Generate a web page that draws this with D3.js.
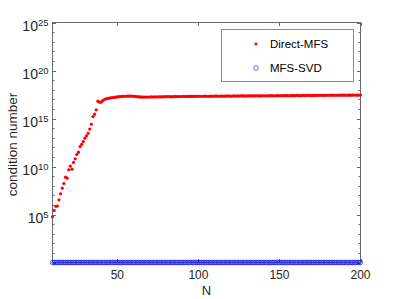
<!DOCTYPE html>
<html>
<head>
<meta charset="utf-8">
<script src="https://cdn.jsdelivr.net/npm/d3@7"></script>
<style>
  html, body { margin: 0; padding: 0; background: #fff; }
  svg { display: block; font-family: "Liberation Sans", Arial, Helvetica, sans-serif; }
</style>
</head>
<body>
<svg id="chart" width="399" height="299"></svg>
<script>
// ---- data ----
const nValues = d3.range(10, 201); // N = 10 .. 200
// log10 of condition number, Direct-MFS
const directLog = [
  4.76, 5.42, 5.86, 5.88, 6.53, 7.16, 7.74, 8.23, 8.89, 8.78,
  9.66, 10.03, 9.72, 10.42, 10.80, 11.25, 11.49, 12.08, 12.30, 12.60,
  12.95, 13.20, 13.46, 13.90, 14.40, 15.20, 15.45, 15.90, 16.80, 16.70,
  16.70, 16.87, 16.98, 17.05, 17.10, 17.12, 17.15, 17.19, 17.20, 17.22,
  17.25, 17.27, 17.29, 17.30, 17.31, 17.32, 17.33, 17.34, 17.33, 17.34, 17.32,
  17.30, 17.28, 17.26, 17.25, 17.24, 17.23, 17.23, 17.24, 17.23, 17.24, 17.25, 17.24, 17.25, 17.24, 17.26,
  17.25, 17.26, 17.25, 17.27, 17.26, 17.27, 17.28, 17.26, 17.27, 17.28,
  17.27, 17.28, 17.29, 17.28, 17.29, 17.30, 17.29, 17.30, 17.31, 17.30,
  17.31, 17.30, 17.31, 17.32, 17.31,
  17.32, 17.31, 17.32, 17.33, 17.32, 17.31, 17.32, 17.33, 17.32, 17.33,
  17.34, 17.33, 17.32, 17.33, 17.34, 17.33, 17.34, 17.35, 17.34, 17.33,
  17.34, 17.35, 17.34, 17.35, 17.34, 17.35, 17.36, 17.35, 17.34, 17.35,
  17.36, 17.35, 17.36, 17.35, 17.36, 17.37, 17.36, 17.35, 17.36, 17.37,
  17.36, 17.37, 17.36, 17.37, 17.38, 17.37, 17.36, 17.37, 17.38, 17.37,
  17.38, 17.37, 17.38, 17.39, 17.38, 17.37, 17.38, 17.39, 17.38, 17.39,
  17.40, 17.39, 17.38, 17.39, 17.40, 17.39, 17.40, 17.41, 17.40, 17.39,
  17.40, 17.41, 17.40, 17.41, 17.42, 17.41, 17.40, 17.41, 17.42, 17.41,
  17.42, 17.43, 17.42, 17.41, 17.42, 17.43, 17.42, 17.43, 17.44, 17.43,
  17.42, 17.43, 17.44, 17.43, 17.44, 17.45, 17.44, 17.43, 17.44, 17.45
];
// log10 of condition number, MFS-SVD
const svdLog = [
  0,0,0,0,0,0,0,0,0,0, 0,0,0,0,0,0,0,0,0,0,
  0,0,0,0,0,0,0,0,0,0, 0,0,0,0,0,0,0,0,0,0,
  0,0,0,0,0,0,0,0,0,0, 0,0,0,0,0,0,0,0,0,0,
  0,0,0,0,0,0,0,0,0,0, 0,0,0,0,0,0,0,0,0,0,
  0,0,0,0,0,0,0,0,0,0, 0,0,0,0,0,0,0,0,0,0,
  0,0,0,0,0,0,0,0,0,0, 0,0,0,0,0,0,0,0,0,0,
  0,0,0,0,0,0,0,0,0,0, 0,0,0,0,0,0,0,0,0,0,
  0,0,0,0,0,0,0,0,0,0, 0,0,0,0,0,0,0,0,0,0,
  0,0,0,0,0,0,0,0,0,0, 0,0,0,0,0,0,0,0,0,0,
  0,0,0,0,0,0,0,0,0,0, 0
];
const xTicks = [50, 100, 150, 200];
const yTickExps = [5, 10, 15, 20, 25];
const yMinorExps = d3.range(0, 26);
const seriesNames = ["Direct-MFS", "MFS-SVD"];
const xLabel = "N";
const yLabel = "condition number";

// ---- layout ----
const L = 52.5, R = 360.5, T = 22.5, B = 262.5;
const svg = d3.select("#chart");
const x = d3.scaleLinear().domain([10, 200]).range([L, R]);
const y = d3.scaleLog().domain([1, 1e25]).range([B, T]);
const axisColor = "#6a6a6a";

// frame
svg.append("rect").attr("x", L).attr("y", T).attr("width", R - L).attr("height", B - T)
  .attr("fill", "none").attr("stroke", axisColor).attr("stroke-width", 1);

// x ticks (bottom & top, inward)
const gx = svg.append("g");
xTicks.forEach(v => {
  const px = Math.round(x(v)) + 0.5;
  gx.append("line").attr("x1", px).attr("x2", px).attr("y1", B).attr("y2", B - 3.5).attr("stroke", axisColor);
  gx.append("line").attr("x1", px).attr("x2", px).attr("y1", T).attr("y2", T + 3.5).attr("stroke", axisColor);
  gx.append("text").attr("x", x(v)).attr("y", 279).attr("text-anchor", "middle")
    .attr("font-size", "12px").attr("fill", "#262626").text(v);
});

// y ticks
const gy = svg.append("g");
yMinorExps.forEach(e => {
  const py = Math.round(y(Math.pow(10, e))) + 0.5;
  const len = (e % 5 === 0) ? 3.5 : 2;
  gy.append("line").attr("x1", L).attr("x2", L + len).attr("y1", py).attr("y2", py).attr("stroke", axisColor);
  gy.append("line").attr("x1", R).attr("x2", R - len).attr("y1", py).attr("y2", py).attr("stroke", axisColor);
});
yTickExps.forEach(e => {
  const py = y(Math.pow(10, e));
  const t = gy.append("text").attr("x", 48.5).attr("y", py + 8.5).attr("text-anchor", "end")
    .attr("fill", "#262626");
  t.append("tspan").attr("font-size", "14px").text("10");
  t.append("tspan").attr("font-size", "9.5px").attr("dy", -5.5).text(e);
});

// axis labels
svg.append("text").attr("x", (L + R) / 2).attr("y", 295).attr("text-anchor", "middle")
  .attr("font-size", "13px").attr("fill", "#262626").text(xLabel);
svg.append("text").attr("transform", `translate(17,${(T + B) / 2 + 2}) rotate(-90)`)
  .attr("text-anchor", "middle").attr("font-size", "13.5px").attr("fill", "#262626").text(yLabel);

// series
const direct = nValues.map((n, i) => ({ n, v: Math.pow(10, directLog[i]) }));
const svd = nValues.map((n, i) => ({ n, v: Math.pow(10, svdLog[i]) }));

svg.append("g").selectAll("circle").data(svd).join("circle")
  .attr("cx", d => x(d.n)).attr("cy", d => y(d.v)).attr("r", 2.3)
  .attr("fill", "none").attr("stroke", "#0000ff").attr("stroke-width", 0.6);

svg.append("g").selectAll("circle").data(direct).join("circle")
  .attr("cx", d => x(d.n)).attr("cy", d => y(d.v)).attr("r", 1.6)
  .attr("fill", "#ff0000");

// legend
const lg = svg.append("g");
lg.append("rect").attr("x", 221.5).attr("y", 29.5).attr("width", 132).attr("height", 52)
  .attr("fill", "#fff").attr("stroke", "#8a8a8a").attr("stroke-width", 1);
lg.append("circle").attr("cx", 256).attr("cy", 44).attr("r", 1.6).attr("fill", "#ff0000");
lg.append("text").attr("x", 270).attr("y", 48).attr("font-size", "11.5px").attr("fill", "#000").text(seriesNames[0]);
lg.append("circle").attr("cx", 256).attr("cy", 68).attr("r", 2.3).attr("fill", "none")
  .attr("stroke", "#0000ff").attr("stroke-width", 0.6);
lg.append("text").attr("x", 270).attr("y", 72).attr("font-size", "11.5px").attr("fill", "#000").text(seriesNames[1]);
</script>
</body>
</html>
